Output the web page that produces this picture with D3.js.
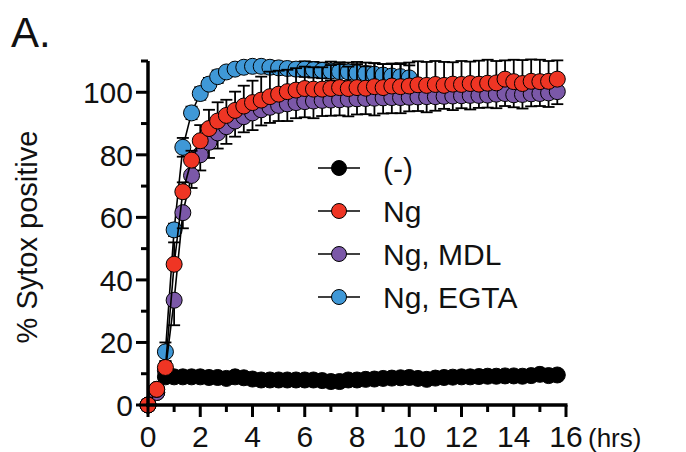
<!DOCTYPE html>
<html>
<head>
<meta charset="utf-8">
<script src="https://cdn.jsdelivr.net/npm/d3@7"></script>
<style>
  body { margin: 0; background: #fff; }
  text { font-family: "Liberation Sans", Arial, sans-serif; fill: #111; }
</style>
</head>
<body>
<div id="chart"></div>
<script>
// time points every 20 min (hrs)
const times = d3.range(48).map(i => i / 3);

const ctrl = [0, 5, 9, 9, 9, 9, 9, 8.8, 8.8, 8.5, 9, 8.7, 8.3, 8, 8, 8, 8, 8, 8, 8,
  7.8, 7.5, 7.5, 8, 8, 8.2, 8.3, 8.5, 8.6, 8.7, 8.8, 8.5, 8.2, 8.6, 8.8, 8.9, 9, 9,
  9.1, 9.2, 9.2, 9.3, 9.3, 9.2, 9.4, 9.8, 9.4, 9.6];
const ctrlSd = [0, 1, 1, 1, 1, 1, 1, 1, 1, 1, 1, 1, 1, 1, 1, 1, 1, 1, 1, 1, 1, 1, 1, 1,
  1, 1, 1, 1, 1, 1, 1, 1, 1, 1, 1, 1, 1, 1, 1, 1, 1, 1, 1, 1, 1, 1, 1, 1];

const ng = [0, 5, 12, 45, 68.2, 78.3, 84.5, 88.4, 90.8, 92.6, 94.2, 95.6, 96.7, 97.5,
  98.6, 99.4, 100.2, 100.7, 101.2, 101, 101, 101.2, 101.5, 101.2, 101.5, 101.3, 101.8,
  101.5, 102, 101.8, 102, 102.4, 102.2, 102.5, 102.2, 102.6, 102.5, 102.8, 102.6,
  102.9, 103, 104.2, 103.4, 102.8, 103.5, 103.4, 103.5, 104.2];
const ngSd = [0, 1, 2, 7, 3, 3, 5, 6, 6, 5, 6, 6.5, 7, 7.5, 8, 7.5, 7, 7, 7, 7, 7, 7.5,
  7.5, 7, 7.5, 7, 7.5, 7.5, 7, 7.5, 7.5, 7.5, 7.5, 7.5, 7.5, 7, 7.5, 7, 7.5, 7.5, 7, 6,
  7, 7.5, 7, 7, 6.5, 6];

const mdl = [0, 4, 11, 33.5, 61.5, 73.4, 80, 84, 87, 89, 90.8, 92.2, 93.4, 94.4, 95.2,
  95.8, 96.3, 96.7, 97, 97.2, 97.4, 97.5, 97.6, 97.8, 97.9, 98, 98.1, 98.2, 98.3, 98.3,
  98.4, 98.5, 98.6, 98.6, 98.7, 98.8, 98.9, 99, 99, 99.1, 99.4, 99.6, 99.2, 99.3, 99.5,
  99.6, 99.8, 100.2];
const mdlSd = [0, 1, 2, 8, 5, 4, 5, 5, 5, 5.5, 5, 5, 5.5, 5, 5, 5, 5.5, 5, 5, 5.5, 5, 5,
  5, 5.5, 5, 5, 5.5, 5, 5, 5, 4.5, 4.5, 5, 4.5, 4, 4.5, 4, 4.5, 4, 4, 4.5, 4, 4, 4.5, 4,
  4, 4.5, 4];

const egta = [0, 4, 17, 56, 82.4, 93.4, 99.6, 102.6, 105, 106.5, 107.4, 108, 108.3,
  108.3, 108, 107.8, 107.6, 107.4, 107.4, 107.2, 107, 106.8, 106.6, 106.5, 106.2, 106,
  105.8, 105.5, 105.2, 105, 104.6];
const egtaSd = [0, 1, 3, 2, 3, 2, 2, 2, 2, 1.5, 1.5, 1.5, 1.5, 1.5, 2, 2, 2, 2, 2.5,
  2.5, 2.5, 3, 3, 3, 3.5, 3.5, 3.5, 3.5, 4, 4, 4];

const seriesNames = ["(-)", "Ng", "Ng, MDL", "Ng, EGTA"];
const xTicks = [0, 2, 4, 6, 8, 10, 12, 14, 16];
const yTicks = [0, 20, 40, 60, 80, 100];

const W = 686, H = 452;
const x = d3.scaleLinear().domain([0, 16]).range([148, 566]);
const y = d3.scaleLinear().domain([0, 110]).range([405, 61]);

const svg = d3.select("#chart").append("svg")
  .attr("width", W).attr("height", H);

// series: draw order matters (blue, purple, black, red)
const series = [
  { name: seriesNames[3], vals: egta, sd: egtaSd, dir: "both", color: "#3f98d7" },
  { name: seriesNames[2], vals: mdl, sd: mdlSd, dir: "down", color: "#7b58a8" },
  { name: seriesNames[0], vals: ctrl, sd: ctrlSd, dir: "both", color: "#000" },
  { name: seriesNames[1], vals: ng, sd: ngSd, dir: "up", color: "#ef3524" }
];

const line = d3.line().x(d => x(d.t)).y(d => y(d.v));
const r = 8, cap = 6;

series.forEach(s => {
  const pts = s.vals.map((v, i) => ({ t: times[i], v: v, sd: s.sd[i] }));
  const g = svg.append("g");

  // error bars
  pts.forEach(p => {
    if (p.sd <= 0) return;
    const hi = s.dir === "down" ? p.v : p.v + p.sd;
    const lo = s.dir === "up" ? p.v : p.v - p.sd;
    const eg = g.append("g").attr("stroke", "#000").attr("stroke-width", 1.8);
    eg.append("line").attr("x1", x(p.t)).attr("x2", x(p.t))
      .attr("y1", y(hi)).attr("y2", y(lo));
    if (s.dir !== "down")
      eg.append("line").attr("x1", x(p.t) - cap).attr("x2", x(p.t) + cap)
        .attr("y1", y(hi)).attr("y2", y(hi));
    if (s.dir !== "up")
      eg.append("line").attr("x1", x(p.t) - cap).attr("x2", x(p.t) + cap)
        .attr("y1", y(lo)).attr("y2", y(lo));
  });

  g.append("path").datum(pts).attr("d", line)
    .attr("fill", "none").attr("stroke", "#000").attr("stroke-width", 1.6);

  g.selectAll("circle").data(pts).join("circle")
    .attr("cx", d => x(d.t)).attr("cy", d => y(d.v)).attr("r", r)
    .attr("fill", s.color).attr("stroke", "#000").attr("stroke-width", 1);
});

// axes
const xAxis = svg.append("g").attr("transform", "translate(0,405)");
xAxis.append("line").attr("x1", 146).attr("x2", 567.5).attr("y1", 0).attr("y2", 0)
  .attr("stroke", "#000").attr("stroke-width", 3.5);
d3.range(0, 17).forEach(v => {
  xAxis.append("line").attr("x1", x(v)).attr("x2", x(v))
    .attr("y1", 0).attr("y2", v % 2 === 0 ? 12 : 7)
    .attr("stroke", "#000").attr("stroke-width", 3);
});
xAxis.selectAll("text.tick").data(xTicks).join("text")
  .attr("class", "tick")
  .attr("x", d => x(d)).attr("y", 42)
  .attr("text-anchor", "middle").attr("font-size", 30).text(d => d);
xAxis.append("text").attr("x", 588).attr("y", 42)
  .attr("font-size", 26).text("(hrs)");

const yAxis = svg.append("g").attr("transform", "translate(148,0)");
yAxis.append("line").attr("x1", 0).attr("x2", 0).attr("y1", 61).attr("y2", 406.5)
  .attr("stroke", "#000").attr("stroke-width", 3.5);
yAxis.append("line").attr("x1", -7).attr("x2", 0).attr("y1", 61).attr("y2", 61)
  .attr("stroke", "#000").attr("stroke-width", 3);
d3.range(0, 110, 10).forEach(v => {
  yAxis.append("line").attr("x1", v % 20 === 0 ? -12 : -7).attr("x2", 0)
    .attr("y1", y(v)).attr("y2", y(v))
    .attr("stroke", "#000").attr("stroke-width", 3);
});
yAxis.selectAll("text.tick").data(yTicks).join("text")
  .attr("class", "tick")
  .attr("x", -15).attr("y", d => y(d)).attr("dy", "0.36em")
  .attr("text-anchor", "end").attr("font-size", 30).text(d => d);

svg.append("text")
  .attr("transform", "translate(37,237) rotate(-90)")
  .attr("text-anchor", "middle").attr("font-size", 29)
  .text("% Sytox positive");

svg.append("text").attr("x", 11).attr("y", 47)
  .attr("font-size", 42).text("A.");

// legend
const legendOrder = [series[2], series[3], series[1], series[0]];
const lg = svg.append("g");
legendOrder.forEach((s, k) => {
  const cy = 168 + k * 43;
  lg.append("line").attr("x1", 318).attr("x2", 360).attr("y1", cy).attr("y2", cy)
    .attr("stroke", "#000").attr("stroke-width", 1.5);
  lg.append("circle").attr("cx", 339).attr("cy", cy).attr("r", 7.5)
    .attr("fill", s.color).attr("stroke", "#000").attr("stroke-width", 1);
  lg.append("text").attr("x", 383).attr("y", cy + 11)
    .attr("font-size", 30).text(s.name);
});
</script>
</body>
</html>
